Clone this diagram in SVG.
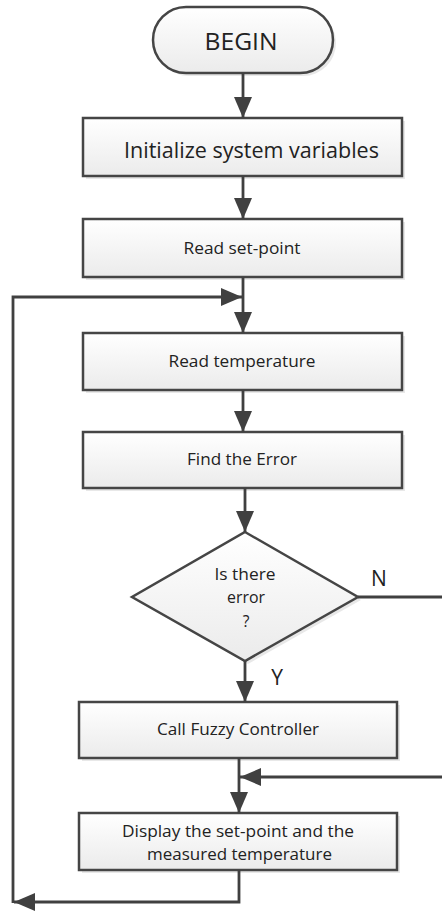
<svg xmlns="http://www.w3.org/2000/svg" width="442" height="913" viewBox="0 0 442 913">
<defs>
<linearGradient id="g" x1="0" y1="0" x2="0" y2="1"><stop offset="0" stop-color="#ffffff"/><stop offset="1" stop-color="#ebebeb"/></linearGradient>
<marker id="ah" markerUnits="userSpaceOnUse" markerWidth="22" markerHeight="20" refX="21" refY="9" orient="auto"><path d="M0,0 L21,9 L0,18 z" fill="#404040"/></marker>
<style>
.box{fill:url(#g);stroke:#454545;stroke-width:2.5}
.sh{fill:#d8d8d8;opacity:0.6}
.t{font-family:"Open Sans","Liberation Sans",Arial,sans-serif;fill:#222;text-anchor:middle}
.c{fill:none;stroke:#404040;stroke-width:2.8;marker-end:url(#ah)}
.n{fill:none;stroke:#404040;stroke-width:2.8}
</style>
</defs>
<g id="begin"><rect class="sh" x="156" y="10" width="180" height="66" rx="33"/><rect class="box" x="153" y="7" width="180" height="66" rx="33"/><text class="t" x="241" y="50" font-size="24" textLength="73" lengthAdjust="spacingAndGlyphs">BEGIN</text></g>
<g id="init"><rect class="sh" x="86" y="121" width="319" height="58"/><rect class="box" x="83" y="118" width="319" height="58"/><text class="t" x="251.5" y="158" font-size="21" textLength="255" lengthAdjust="spacingAndGlyphs">Initialize system variables</text></g>
<g id="setpoint"><rect class="sh" x="86" y="222" width="319" height="58"/><rect class="box" x="83" y="219" width="319" height="58"/><text class="t" x="242" y="254" font-size="16.5" textLength="117" lengthAdjust="spacingAndGlyphs">Read set-point</text></g>
<g id="readtemp"><rect class="sh" x="86" y="336" width="319" height="57"/><rect class="box" x="83" y="333" width="319" height="57"/><text class="t" x="242" y="367" font-size="16.5" textLength="147" lengthAdjust="spacingAndGlyphs">Read temperature</text></g>
<g id="finderr"><rect class="sh" x="86" y="435" width="319" height="56"/><rect class="box" x="83" y="432" width="319" height="56"/><text class="t" x="242" y="465" font-size="16.5" textLength="110" lengthAdjust="spacingAndGlyphs">Find the Error</text></g>
<g id="decision"><polygon class="sh" points="248,535 361,600 248,664 135,600"/><polygon class="box" points="245,532 358,597 245,661 132,597"/><text class="t" x="245" y="580" font-size="15.5" textLength="61" lengthAdjust="spacingAndGlyphs">Is there</text><text class="t" x="246" y="603" font-size="15.5" textLength="38" lengthAdjust="spacingAndGlyphs">error</text><text class="t" x="246" y="627" font-size="15.5">?</text></g>
<g id="fuzzy"><rect class="sh" x="82" y="705" width="318" height="56"/><rect class="box" x="79" y="702" width="318" height="56"/><text class="t" x="238" y="735" font-size="16.5" textLength="162" lengthAdjust="spacingAndGlyphs">Call Fuzzy Controller</text></g>
<g id="display"><rect class="sh" x="82" y="816" width="318" height="57"/><rect class="box" x="79" y="813" width="318" height="57"/><text class="t" x="238" y="837" font-size="16.5" textLength="232" lengthAdjust="spacingAndGlyphs">Display the set-point and the</text><text class="t" x="239.5" y="860" font-size="16.5" textLength="185" lengthAdjust="spacingAndGlyphs">measured temperature</text></g>
<g id="connectors">
<path class="c" d="M243,73 V118"/>
<path class="c" d="M243,176 V219"/>
<path class="c" d="M243,277 V333"/>
<path class="c" d="M243,390 V432"/>
<path class="c" d="M245,488 V532"/>
<path class="c" d="M245,661 V702"/>
<path class="c" d="M239,758 V813"/>
<path class="n" d="M358,597 H442"/>
<path class="c" d="M442,777 H240"/>
<path class="c" d="M239,870 V902 H14"/>
<path class="c" d="M13,903 V297 H242"/>
<text class="t" x="379" y="586" font-size="21">N</text>
<text class="t" x="277" y="685" font-size="21">Y</text>
</g>
</svg>
